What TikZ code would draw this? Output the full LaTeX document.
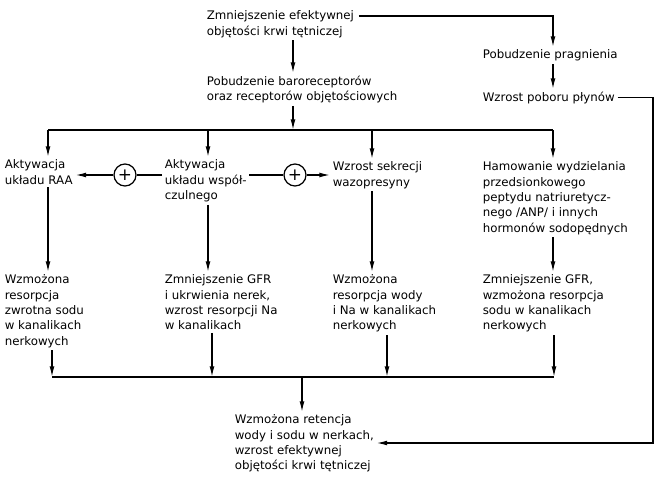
\documentclass[tikz,border=0pt]{standalone}
\usepackage{fontspec}
\setmainfont{DejaVu Sans}
\usetikzlibrary{arrows.meta}

\begin{document}
\begin{tikzpicture}[x=0.025cm, y=-0.025cm, >={Latex[length=7.5pt,width=3.4pt]},
    txt/.style={anchor=north west, inner sep=0pt, outer sep=2pt, align=left, font=\fontsize{8.4}{10.9}\selectfont},
    plus/.style={circle, draw, line width=0.9pt, minimum size=0.55cm, inner sep=0pt, font=\large},
    line/.style={line width=0.9pt},
    edge/.style={->, line width=0.9pt}]

\useasboundingbox (0,0) rectangle (660,480);

\node [txt] (zm) at (204,8) {Zmniejszenie efektywnej\\objętości krwi tętniczej};
\node [txt] (baro) at (204,73) {Pobudzenie baroreceptorów\\oraz receptorów objętościowych};
\node [txt] (prag) at (480,47) {Pobudzenie pragnienia};
\node [txt] (plyn) at (480,89) {Wzrost poboru płynów};

\node [txt] (raa) at (2,157) {Aktywacja\\układu RAA};
\node [txt] (wsp) at (162,157) {Aktywacja\\układu współ-\\czulnego};
\node [txt] (waz) at (330,159) {Wzrost sekrecji\\wazopresyny};
\node [txt] (anp) at (480,159) {Hamowanie wydzielania\\przedsionkowego\\peptydu natriuretycz-\\nego /ANP/ i innych\\hormonów sodopędnych};

\node [plus] (p1) at (125,175) {+};
\node [plus] (p2) at (295,175) {+};

\node [txt] (res1) at (2,272) {Wzmożona\\resorpcja\\zwrotna sodu\\w kanalikach\\nerkowych};
\node [txt] (gfr1) at (162,272) {Zmniejszenie GFR\\i ukrwienia nerek,\\wzrost resorpcji Na\\w kanalikach};
\node [txt] (res2) at (330,272) {Wzmożona\\resorpcja wody\\i Na w kanalikach\\nerkowych};
\node [txt] (gfr2) at (480,272) {Zmniejszenie GFR,\\wzmożona resorpcja\\sodu w kanalikach\\nerkowych};

\node [txt] (ret) at (232,412) {Wzmożona retencja\\wody i sodu w nerkach,\\wzrost efektywnej\\objętości krwi tętniczej};

% upper and lower bus lines
\coordinate (km) at (293,130);
\coordinate (ka) at (48,130);
\coordinate (kb) at (208,130);
\coordinate (kc) at (372,130);
\coordinate (kd) at (553,130);
\coordinate (jm) at (302,377);
\coordinate (ja) at (52,377);
\coordinate (jb) at (212,377);
\coordinate (jc) at (387,377);
\coordinate (jd) at (554,377);
\coordinate (rr) at (653,443);

\draw [edge] (zm.south -| km) -- (baro.north -| km);
\draw [edge] (baro.south -| km) -- (km);
\draw [line] (ka) -- (kd);
\draw [edge] (ka) -- (raa.north -| ka);
\draw [edge] (kb) -- (wsp.north -| kb);
\draw [edge] (kc) -- (waz.north -| kc);
\draw [edge] (kd) -- (anp.north -| kd);

\draw [edge] (zm.north east) ++(2,8) -| (prag.north -| kd);
\draw [edge] (prag.south -| kd) -- (plyn.north -| kd);
\draw [edge] (plyn.east) -| (rr) -- (rr -| ret.east);

\draw [line] (wsp.west |- p1) -- (p1);
\draw [edge] (p1) -- (raa.east |- p1);
\draw [line] (wsp.east |- p2) -- (p2);
\draw [edge] (p2) -- (waz.west |- p2);

\draw [edge] (raa.south -| ka) -- (res1.north -| ka);
\draw [edge] (wsp.south -| kb) -- (gfr1.north -| kb);
\draw [edge] (waz.south -| kc) -- (res2.north -| kc);
\draw [edge] (anp.south -| kd) -- (gfr2.north -| kd);

\draw [line] (ja) -- (jd);
\draw [edge] (res1.south -| ja) -- (ja);
\draw [edge] (gfr1.south -| jb) -- (jb);
\draw [edge] (res2.south -| jc) -- (jc);
\draw [edge] (gfr2.south -| jd) -- (jd);
\draw [edge] (jm) -- (ret.north -| jm);

\end{tikzpicture}
\end{document}
